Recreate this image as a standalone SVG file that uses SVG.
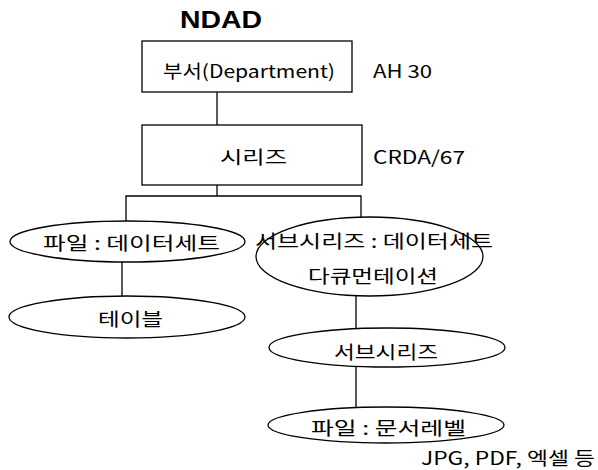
<svg xmlns="http://www.w3.org/2000/svg" width="598" height="470" viewBox="0 0 598 470">
  <style>
    .shape { fill: #ffffff; stroke: #000000; stroke-width: 1.3; }
    .link { fill: none; stroke: #000000; stroke-width: 1.3; }
    text { font-family: "Noto Sans CJK KR", "Liberation Sans", sans-serif; font-size: 18px; fill: #000000; }
    .title { font-family: "Liberation Sans", "Noto Sans CJK KR", sans-serif; font-size: 24px; font-weight: bold; }
  </style>
  <rect width="598" height="470" fill="#ffffff"/>

  <!-- connectors -->
  <g id="connectors">
    <line class="link" x1="217" y1="92" x2="217" y2="125"/>
    <polyline class="link" points="217,185 217,196"/>
    <polyline class="link" points="126,221 126,196 361,196 361,217"/>
    <line class="link" x1="122" y1="262" x2="122" y2="296"/>
    <line class="link" x1="356" y1="296" x2="356" y2="328"/>
    <line class="link" x1="356" y1="367" x2="356" y2="407"/>
  </g>

  <text class="title" x="180" y="28" textLength="82" lengthAdjust="spacingAndGlyphs">NDAD</text>

  <g id="department">
    <rect class="shape" x="142" y="41" width="210" height="51"/>
    <text x="163" y="78" textLength="172" lengthAdjust="spacingAndGlyphs">부서(Department)</text>
  </g>
  <text x="373" y="78" textLength="59" lengthAdjust="spacingAndGlyphs">AH 30</text>

  <g id="series">
    <rect class="shape" x="142" y="125" width="220" height="60"/>
    <text x="220" y="164" textLength="67" lengthAdjust="spacingAndGlyphs">시리즈</text>
  </g>
  <text x="373" y="164" textLength="92" lengthAdjust="spacingAndGlyphs">CRDA/67</text>

  <g id="file-dataset">
    <ellipse class="shape" cx="127.5" cy="241.5" rx="117.5" ry="20.5"/>
    <text x="43" y="250" textLength="177" lengthAdjust="spacingAndGlyphs">파일 : 데이터세트</text>
  </g>

  <g id="table">
    <ellipse class="shape" cx="127" cy="317" rx="118" ry="21"/>
    <text x="98" y="326" textLength="65" lengthAdjust="spacingAndGlyphs">테이블</text>
  </g>

  <g id="subseries-dataset">
    <ellipse class="shape" cx="369.5" cy="256.5" rx="113.5" ry="39.5"/>
    <text x="255" y="248" textLength="238" lengthAdjust="spacingAndGlyphs">서브시리즈 : 데이터세트</text>
    <text x="308" y="283" textLength="130" lengthAdjust="spacingAndGlyphs">다큐먼테이션</text>
  </g>

  <g id="subseries">
    <ellipse class="shape" cx="387" cy="347.5" rx="118" ry="19.5"/>
    <text x="334" y="359" textLength="104" lengthAdjust="spacingAndGlyphs">서브시리즈</text>
  </g>

  <g id="file-doclevel">
    <ellipse class="shape" cx="386" cy="425" rx="118" ry="18"/>
    <text x="311" y="435" textLength="155" lengthAdjust="spacingAndGlyphs">파일 : 문서레벨</text>
  </g>

  <text x="421" y="465" textLength="174" lengthAdjust="spacingAndGlyphs">JPG, PDF, 엑셀 등</text>
</svg>
